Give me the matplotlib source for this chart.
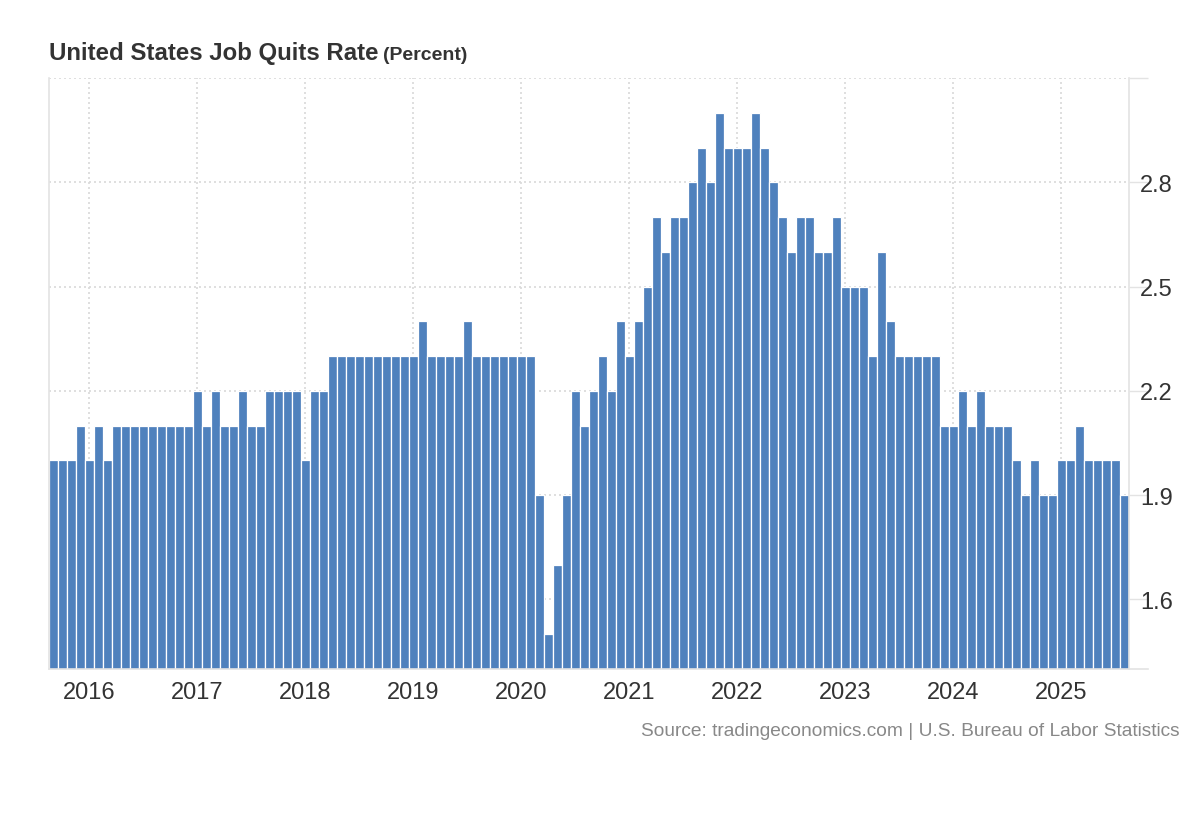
import matplotlib
matplotlib.use("Agg")
import matplotlib.pyplot as plt
import numpy as np

plt.rcParams['font.family'] = ['Liberation Sans', 'DejaVu Sans']

# Monthly US job quits rate (percent), Sep 2015 - Aug 2025
rate_2015 = [2.0, 2.0, 2.0, 2.1]  # Sep-Dec
rate_2016 = [2.0, 2.1, 2.0, 2.1, 2.1, 2.1, 2.1, 2.1, 2.1, 2.1, 2.1, 2.1]
rate_2017 = [2.2, 2.1, 2.2, 2.1, 2.1, 2.2, 2.1, 2.1, 2.2, 2.2, 2.2, 2.2]
rate_2018 = [2.0, 2.2, 2.2, 2.3, 2.3, 2.3, 2.3, 2.3, 2.3, 2.3, 2.3, 2.3]
rate_2019 = [2.3, 2.4, 2.3, 2.3, 2.3, 2.3, 2.4, 2.3, 2.3, 2.3, 2.3, 2.3]
rate_2020 = [2.3, 2.3, 1.9, 1.5, 1.7, 1.9, 2.2, 2.1, 2.2, 2.3, 2.2, 2.4]
rate_2021 = [2.3, 2.4, 2.5, 2.7, 2.6, 2.7, 2.7, 2.8, 2.9, 2.8, 3.0, 2.9]
rate_2022 = [2.9, 2.9, 3.0, 2.9, 2.8, 2.7, 2.6, 2.7, 2.7, 2.6, 2.6, 2.7]
rate_2023 = [2.5, 2.5, 2.5, 2.3, 2.6, 2.4, 2.3, 2.3, 2.3, 2.3, 2.3, 2.1]
rate_2024 = [2.1, 2.2, 2.1, 2.2, 2.1, 2.1, 2.1, 2.0, 1.9, 2.0, 1.9, 1.9]
rate_2025 = [2.0, 2.0, 2.1, 2.0, 2.0, 2.0, 2.0, 1.9]  # Jan-Aug

year_labels = ['2016', '2017', '2018', '2019', '2020',
               '2021', '2022', '2023', '2024', '2025']
y_ticks = [1.6, 1.9, 2.2, 2.5, 2.8]

values = (rate_2015 + rate_2016 + rate_2017 + rate_2018 + rate_2019 + rate_2020
          + rate_2021 + rate_2022 + rate_2023 + rate_2024 + rate_2025)
x = np.arange(len(values))
first_jan = len(rate_2015)
jan_pos = [first_jan + 12 * i - 0.07 for i in range(len(year_labels))]

BAR = '#4f81bd'
GRID = '#d9d9d9'
SPINE = '#e3e3e3'
TXT = '#333333'

fig = plt.figure(figsize=(12, 8.2), dpi=100)
ax = fig.add_axes([49 / 1200, 1 - 670 / 820, 1080 / 1200, 591 / 820])

ax.bar(x, values, width=1.0, color=BAR, edgecolor='white', linewidth=0.9, zorder=3)
ax.set_xlim(-0.5, len(values) - 0.5)
ax.set_ylim(1.4, 3.1)

# y axis on right
ax.yaxis.tick_right()
ax.set_yticks(y_ticks + [3.1])
ax.set_yticklabels([f'{v:.1f}' for v in y_ticks] + [''])
ax.tick_params(axis='y', length=14, width=1, color=SPINE, pad=-6,
               labelsize=17, labelcolor=TXT)
ax.set_xticks(jan_pos)
ax.set_xticklabels(year_labels)
ax.tick_params(axis='x', length=0, pad=9, labelsize=17, labelcolor=TXT)

ax.grid(True, axis='both', color=GRID, linestyle=(0, (1.2, 1.8)), linewidth=1.2, zorder=0)

for s in ['left', 'right', 'bottom']:
    ax.spines[s].set_color(SPINE)
    ax.spines[s].set_linewidth(1.2)
    ax.spines[s].set_zorder(4)
ax.spines['top'].set_visible(False)

# bottom line extends beyond right axis
ax.plot([1.0, 1.0 + 19 / 1080], [0, 0], transform=ax.transAxes, color=SPINE,
        lw=1.2, clip_on=False, zorder=1)

# Title
t1 = fig.text(49 / 1200, 1 - 60 / 820, 'United States Job Quits Rate',
              fontsize=17.3, fontweight='bold', color=TXT, va='baseline', ha='left')
fig.canvas.draw()
bb = t1.get_window_extent(fig.canvas.get_renderer())
fig.text((bb.x1 + 5) / 1200, 1 - 60 / 820, '(Percent)', fontsize=14,
         fontweight='bold', color=TXT, va='baseline', ha='left')

fig.text(1180 / 1200, 1 - 732 / 820,
         'Source: tradingeconomics.com | U.S. Bureau of Labor Statistics',
         fontsize=13.8, color='#888888', ha='right', va='center')

fig.savefig('out.png', dpi=100, facecolor='white')
